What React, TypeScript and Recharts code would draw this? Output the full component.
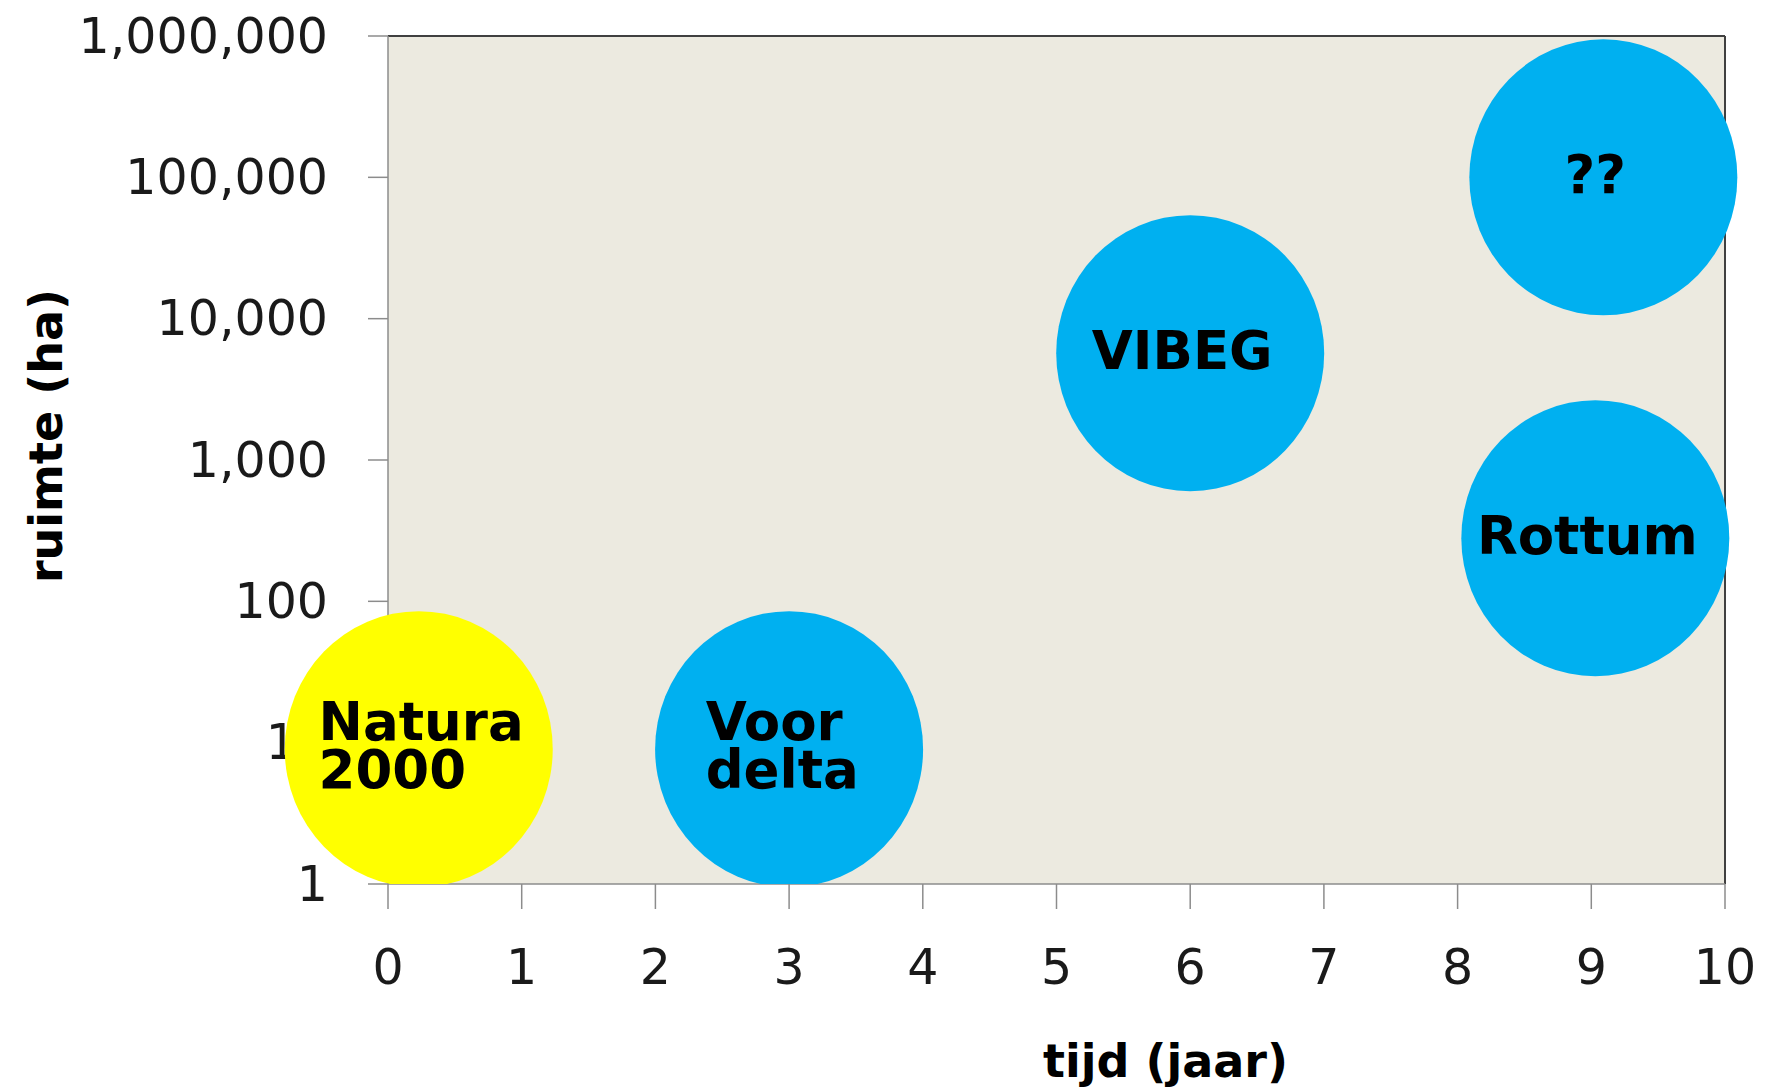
import { ScatterChart, Scatter, XAxis, YAxis, ReferenceArea, ReferenceLine, Cell } from "recharts";

const projecten = ["Natura 2000", "Voor delta", "VIBEG", "??", "Rottum"];
const tijdJaar = [0.23, 3, 6, 9.09, 9.03];
const ruimteHa = [9, 9, 5700, 100000, 280];
const xTicks = [0, 1, 2, 3, 4, 5, 6, 7, 8, 9, 10];
const yTicks = [1, 10, 100, 1000, 10000, 100000, 1000000];

const data = projecten.map((naam, i) => ({ naam, tijd: tijdJaar[i], ruimte: ruimteHa[i] }));

const FONT = "'DejaVu Sans', Verdana, sans-serif";
const BLAUW = "#00B0F0";
const GEEL = "#FFFF00";
const kleur = (naam: string) => (naam === "Natura 2000" ? GEEL : BLAUW);
const fmt = (v: number) => v.toLocaleString("en-US");

function Bubble(props: any) {
  const { cx, cy, payload } = props;
  const lines: string[] = payload.naam.split(" ");
  const fs = 53;
  const longest = Math.max(...lines.map((l) => l.length));
  const multi = lines.length > 1;
  const tx = multi ? cx - (longest * 0.63 * fs) / 2 : cx - 8;
  return (
    <g>
      <ellipse cx={cx} cy={cy} rx={134} ry={138} fill={kleur(payload.naam)} />
      <text
        x={tx}
        y={multi ? cy - 9 : cy + 16}
        textAnchor={multi ? "start" : "middle"}
        fontFamily={FONT}
        fontWeight="bold"
        fontSize={fs}
        fill="#000"
      >
        {lines.map((l, i) => (
          <tspan key={l} x={tx} dy={i === 0 ? 0 : 48}>
            {l}
          </tspan>
        ))}
      </text>
    </g>
  );
}

// y tick labels drawn as reference-line labels so the bubbles can cover them
const yTickLabel = (v: number) => (p: any) => {
  const vb = p.viewBox;
  return (
    <text
      x={vb.x - 60}
      y={vb.y}
      textAnchor="end"
      dominantBaseline="central"
      fontFamily={FONT}
      fontSize={49}
      fill="#1a1a1a"
    >
      {fmt(v)}
    </text>
  );
};

const yTitle = (p: any) => {
  const vb = p.viewBox;
  const x = vb.x + 46;
  const y = vb.y + vb.height / 2 - 24;
  return (
    <text
      x={x}
      y={y}
      transform={`rotate(-90 ${x} ${y})`}
      textAnchor="middle"
      dominantBaseline="central"
      fontFamily={FONT}
      fontWeight="bold"
      fontSize={46}
      fill="#000"
    >
      ruimte (ha)
    </text>
  );
};

const xTitle = (p: any) => {
  const vb = p.viewBox;
  return (
    <text
      x={vb.x + vb.width / 2 + 109}
      y={vb.y + 177}
      textAnchor="middle"
      dominantBaseline="central"
      fontFamily={FONT}
      fontWeight="bold"
      fontSize={46}
      fill="#000"
    >
      tijd (jaar)
    </text>
  );
};

export default function App() {
  return (
    <div style={{ width: 1775, height: 1090, background: "#fff" }}>
      <style>{"body{margin:0}"}</style>
      <ScatterChart width={1775} height={1090} margin={{ top: 36, right: 50, left: 0, bottom: 0 }}>
        <ReferenceArea x1={0} x2={10} y1={1} y2={1000000} fill="#ECEAE0" fillOpacity={1} stroke="none" />
        <ReferenceLine y={1000000} stroke="#404040" strokeWidth={2} />
        <ReferenceLine x={10} stroke="#404040" strokeWidth={2} />
        {yTicks.map((v) => (
          <ReferenceLine key={v} y={v} stroke="none" label={{ content: yTickLabel(v) }} />
        ))}
        <XAxis
          type="number"
          dataKey="tijd"
          domain={[0, 10]}
          ticks={xTicks}
          interval={0}
          height={206}
          tickSize={25}
          tickMargin={40}
          stroke="#8c8c8c"
          strokeWidth={1.5}
          tick={{ fontFamily: FONT, fontSize: 49, fill: "#1a1a1a" }}
          label={{ value: "tijd (jaar)", content: xTitle }}
        />
        <YAxis
          type="number"
          dataKey="ruimte"
          scale="log"
          domain={[1, 1000000]}
          allowDataOverflow
          ticks={yTicks}
          interval={0}
          width={388}
          tickSize={20}
          stroke="#8c8c8c"
          strokeWidth={1.5}
          tickFormatter={() => ""}
          label={{ value: "ruimte (ha)", content: yTitle }}
        />
        <Scatter data={data} shape={Bubble} isAnimationActive={false}>
          {data.map((d) => (
            <Cell key={d.naam} fill={kleur(d.naam)} />
          ))}
        </Scatter>
      </ScatterChart>
    </div>
  );
}
